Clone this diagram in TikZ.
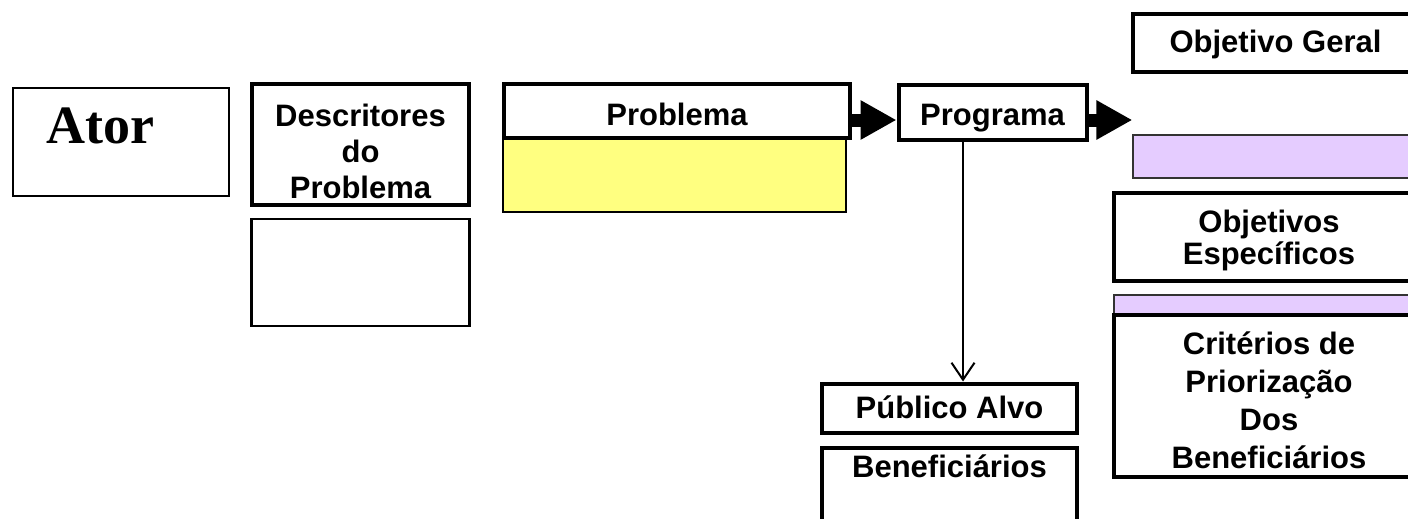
\documentclass[tikz,border=0pt]{standalone}
\usepackage{fontspec}
\setmainfont{Liberation Sans}
\newfontfamily\atorfont{Liberation Serif}
\usepackage{tikz}
\usetikzlibrary{arrows.meta, positioning}
\definecolor{amarelo}{RGB}{255,255,128}
\definecolor{lilas}{RGB}{229,204,255}
\tikzstyle{block} = [draw, line width=4pt, rectangle, inner sep=0pt, text height=24pt, text depth=4pt, font=\bfseries\fontsize{31}{37}\selectfont]
\tikzstyle{blockt} = [draw, line width=1.8pt, rectangle, inner sep=0pt]
\tikzstyle{blockl} = [draw=black!80, line width=1.3pt, fill=lilas, rectangle, inner sep=0pt]
\tikzstyle{txt} = [inner sep=0pt, align=center, font=\bfseries\fontsize{31}{37}\selectfont]
\tikzstyle{fat} = [line width=13pt, -{Triangle[length=36pt, width=37pt]}]

\begin{document}
\begin{tikzpicture}[x=1pt, y=-1pt]
    \useasboundingbox (0,0) rectangle (1408,519);
    \clip (0,0) rectangle (1408,519);

    % left side
    \node [blockt, line width=1.7pt, minimum width=216.5pt, minimum height=108pt] (ator) at (121,142) {};
    \node [anchor=base west, inner sep=0pt, font=\atorfont\bfseries\fontsize{54}{60}\selectfont] (atortxt) at (46,143) {Ator};
    \node [block, minimum width=217pt, minimum height=121pt] (desc) at (360.5,144.5) {};
    \node [txt, anchor=north, font=\bfseries\fontsize{31}{36}\selectfont] (desctxt) at (360.5,104) {Descritores\\do\\Problema};
    \node [blockt, line width=2.2pt, minimum width=218pt, minimum height=107pt, below=11pt of desc] (descvazio) {};

    % problema and programa
    \node [block, text height=28pt, text depth=0pt, minimum width=345.7pt, minimum height=53.4pt] (prob) at (677,111) {Problema};
    \node [blockt, fill=amarelo, minimum width=342.7pt, minimum height=73.4pt, below=-2pt of prob.south west, anchor=north west] (probvazio) {};
    \node [block, text height=26pt, text depth=0pt, minimum width=188pt, minimum height=55pt] (prog) at (992.5,112) {Programa};

    % right column
    \node [block, minimum width=285pt, minimum height=58pt] (objg) at (1275.5,43) {Objetivo Geral};
    \node [blockl, minimum width=285pt, minimum height=43pt] (lilas1) at (1275.5,156.5) {};
    \node [block, minimum width=310pt, minimum height=88pt] (objesp) at (1269,237) {};
    \node [txt, anchor=north, font=\bfseries\fontsize{31}{32}\selectfont] (objesptxt) at (1269,210) {Objetivos\\Específicos};
    \node [blockl, minimum width=310pt, minimum height=21pt] (lilas2) at (1269,305.5) {};
    \node [block, minimum width=310pt, minimum height=162pt] (crit) at (1269,396) {};
    \node [txt, anchor=north, font=\bfseries\fontsize{31}{37.7}\selectfont] (crittxt) at (1269,332) {Critérios de\\Priorização\\Dos\\Beneficiários};

    % publico alvo
    \node [block, minimum width=255pt, minimum height=49pt] (pub) at (949.5,408) {Público Alvo};
    \node [block, minimum width=255pt, minimum height=120pt] (benef) at (949.5,508) {};
    \node [txt, anchor=base] (beneftxt) at (949.5,477) {Beneficiários};

    \draw[fat] ([yshift=-9pt]prob.east) -- ([yshift=-9pt]prob.east -| prog.west);
    \draw[fat] ([yshift=-8pt]prog.east) -- ([yshift=-8pt]prog.east -| lilas1.west);
    \draw[line width=2pt, -{Straight Barb[length=17pt, width=23pt]}] ([xshift=-29.5pt]prog.south) -- ([xshift=-29.5pt]prog.south |- pub.north);
\end{tikzpicture}
\end{document}
